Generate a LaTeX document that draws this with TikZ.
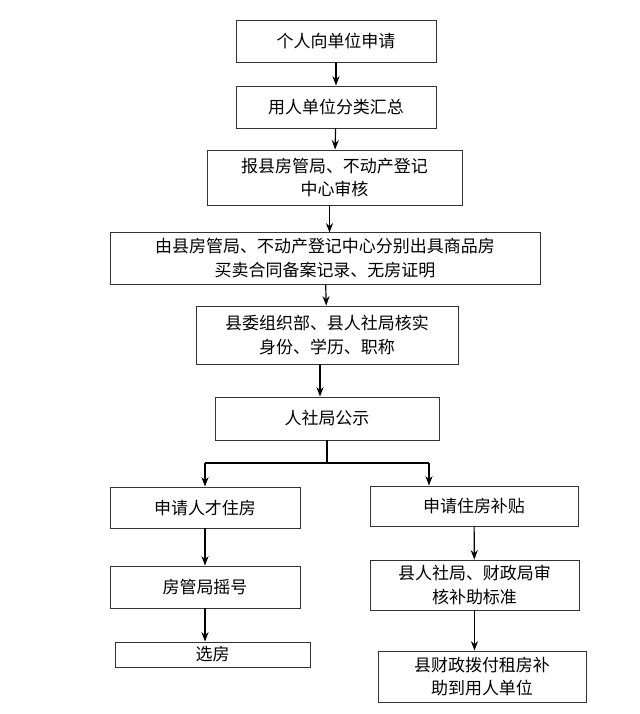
\documentclass[tikz,border=0pt]{standalone}
\usepackage{fontspec}
\newfontfamily\cjk{Noto Sans CJK SC}
\usetikzlibrary{arrows.meta}
\begin{document}
\begin{tikzpicture}
  [x=0.03cm,y=-0.03cm,
   every node/.style={draw=black!80,line width=0.8pt,rectangle,inner sep=0pt,align=center,
     font=\cjk\fontsize{14.5pt}{20pt}\selectfont},
   link/.style={line width=1pt,-{Stealth[length=8pt,width=6pt]}}]
  \fill[white] (0,0) rectangle (640,714);
  \node[minimum width=200*0.03cm,minimum height=42*0.03cm] (n1) at (336,41) {个人向单位申请};
  \node[minimum width=200*0.03cm,minimum height=42*0.03cm] (n2) at (336,107) {用人单位分类汇总};
  \node[minimum width=255*0.03cm,minimum height=55*0.03cm] (n3) at (334.5,177.5) {报县房管局、不动产登记\\中心审核};
  \node[minimum width=430*0.03cm,minimum height=52*0.03cm] (n4) at (325,258) {由县房管局、不动产登记中心分别出具商品房\\买卖合同备案记录、无房证明};
  \node[minimum width=262*0.03cm,minimum height=58*0.03cm] (n5) at (327,335) {县委组织部、县人社局核实\\身份、学历、职称};
  \node[minimum width=224*0.03cm,minimum height=43*0.03cm] (n6) at (327,418.5) {人社局公示};
  \node[minimum width=190*0.03cm,minimum height=41*0.03cm] (n7) at (205,507.5) {申请人才住房};
  \node[minimum width=208*0.03cm,minimum height=40*0.03cm] (n8) at (474,506) {申请住房补贴};
  \node[minimum width=190*0.03cm,minimum height=42*0.03cm] (n9) at (205,587) {房管局摇号};
  \node[minimum width=209*0.03cm,minimum height=50*0.03cm] (n10) at (474.5,585) {县人社局、财政局审\\核补助标准};
  \node[minimum width=195*0.03cm,minimum height=25*0.03cm] (n11) at (212.5,654.5) {选房};
  \node[minimum width=208*0.03cm,minimum height=51*0.03cm] (n12) at (482,676.5) {县财政拨付租房补\\助到用人单位};
  \coordinate (a5) at (320,364);
  \coordinate (j) at (327,463);
  \coordinate (jl) at (205,463);
  \coordinate (jr) at (429,463);

  \draw[link] (n1) -- (n2);
  \draw[link] (n2) -- (n3);
  \draw[link] (n3.south) ++(-5,0) -- ++(0,27);
  \draw[link] (n4) -- (n5);
  \draw[link] (a5) -- (a5 |- n6.north);
  \draw[line width=1pt] (n6) -- (j);
  \draw[line width=1pt] (jl) -- (jr);
  \draw[link] (jl) -- (n7);
  \draw[link] (jr) -- (jr |- n8.north);
  \draw[link] (n7) -- (n9);
  \draw[link] (n9) -- (n9 |- n11.north);
  \draw[link] (n8) -- (n10);
  \draw[link] (n10.south) -- (n10.south |- n12.north);
\end{tikzpicture}
\end{document}
